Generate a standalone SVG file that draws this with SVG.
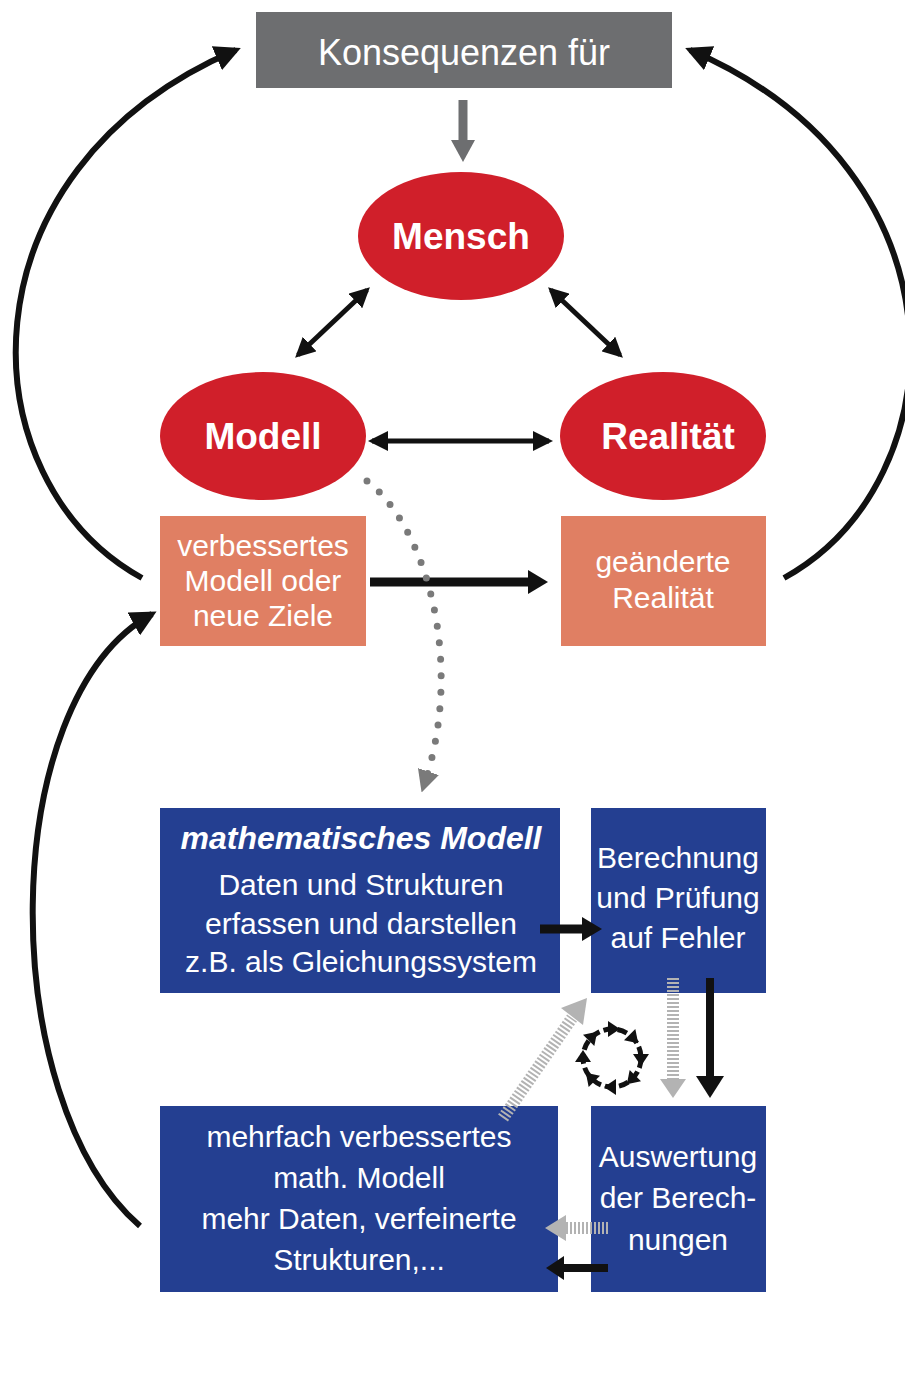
<svg xmlns="http://www.w3.org/2000/svg" width="905" height="1373" viewBox="0 0 905 1373">
<style>
.t{font-family:"Liberation Sans",Arial,sans-serif;fill:#fff;text-anchor:middle}
.r{fill:#d01f2a}
.s{fill:#e07f63}
.b{fill:#243f91}
.k{fill:none;stroke:#111;stroke-width:5}
.a{fill:none;stroke:#111;stroke-width:6}
.st{fill:none;stroke:#b3b3b3;stroke-width:12;stroke-dasharray:2 2}
</style>
<defs>
<marker id="ah" viewBox="0 0 10 10" refX="8" refY="5" markerWidth="20" markerHeight="20" markerUnits="userSpaceOnUse" orient="auto-start-reverse"><path d="M0,0 L10,5 L0,10 z" fill="#111"/></marker>
<marker id="ahb" viewBox="0 0 10 10" refX="8" refY="5" markerWidth="26" markerHeight="26" markerUnits="userSpaceOnUse" orient="auto"><path d="M0,0 L10,5 L0,10 z" fill="#111"/></marker>
<marker id="ahd" viewBox="0 0 10 10" refX="5" refY="5" markerWidth="22" markerHeight="22" markerUnits="userSpaceOnUse" orient="auto"><path d="M0,0 L10,5 L0,10 z" fill="#7a7a7a"/></marker>
</defs>
<rect width="905" height="1373" fill="#fff"/>

<g id="konsequenzen">
<rect x="256" y="12" width="416" height="76" fill="#6d6e70"/>
<text class="t" x="464" y="65" font-size="36">Konsequenzen für</text>
</g>
<g id="mensch">
<ellipse class="r" cx="461" cy="236" rx="103" ry="64"/>
<text class="t" x="461" y="249" font-size="37" font-weight="bold">Mensch</text>
</g>
<g id="modell">
<ellipse class="r" cx="263" cy="436" rx="103" ry="64"/>
<text class="t" x="263" y="449" font-size="37" font-weight="bold">Modell</text>
</g>
<g id="realitaet">
<ellipse class="r" cx="663" cy="436" rx="103" ry="64"/>
<text class="t" x="668" y="449" font-size="37" font-weight="bold">Realität</text>
</g>
<g id="verbessert">
<rect class="s" x="160" y="516" width="206" height="130"/>
<text class="t" font-size="30"><tspan x="263" y="556">verbessertes</tspan><tspan x="263" y="591">Modell oder</tspan><tspan x="263" y="626">neue Ziele</tspan></text>
</g>
<g id="geaendert">
<rect class="s" x="561" y="516" width="205" height="130"/>
<text class="t" font-size="30"><tspan x="663" y="572">geänderte</tspan><tspan x="663" y="608">Realität</tspan></text>
</g>
<g id="mathmodell">
<rect class="b" x="160" y="808" width="400" height="185"/>
<text class="t" x="361" y="849" font-size="32" font-weight="bold" font-style="italic">mathematisches Modell</text>
<text class="t" font-size="30"><tspan x="361" y="895">Daten und Strukturen</tspan><tspan x="361" y="934">erfassen und darstellen</tspan><tspan x="361" y="972">z.B. als Gleichungssystem</tspan></text>
</g>
<g id="berechnung">
<rect class="b" x="591" y="808" width="175" height="185"/>
<text class="t" font-size="30"><tspan x="678" y="868">Berechnung</tspan><tspan x="678" y="908">und Prüfung</tspan><tspan x="678" y="948">auf Fehler</tspan></text>
</g>
<g id="mehrfach">
<rect class="b" x="160" y="1106" width="398" height="186"/>
<text class="t" font-size="30"><tspan x="359" y="1147">mehrfach verbessertes</tspan><tspan x="359" y="1188">math. Modell</tspan><tspan x="359" y="1229">mehr Daten, verfeinerte</tspan><tspan x="359" y="1270">Strukturen,...</tspan></text>
</g>
<g id="auswertung">
<rect class="b" x="591" y="1106" width="175" height="186"/>
<text class="t" font-size="30"><tspan x="678" y="1167">Auswertung</tspan><tspan x="678" y="1208">der Berech-</tspan><tspan x="678" y="1250">nungen</tspan></text>
</g>

<g id="connectors">
<line x1="463" y1="100" x2="463" y2="142" stroke="#6d6e70" stroke-width="9"/>
<path d="M451,140 L475,140 L463,162 z" fill="#6d6e70"/>
<line class="k" x1="367" y1="290" x2="298" y2="355" marker-start="url(#ah)" marker-end="url(#ah)"/>
<line class="k" x1="551" y1="290" x2="620" y2="355" marker-start="url(#ah)" marker-end="url(#ah)"/>
<line class="k" x1="372" y1="441" x2="549" y2="441" marker-start="url(#ah)" marker-end="url(#ah)"/>
<line x1="370" y1="582" x2="530" y2="582" stroke="#111" stroke-width="9"/>
<path d="M528,570 L548,582 L528,594 z" fill="#111"/>
<path class="a" d="M142,578 C-35,480 -45,170 236,50" marker-end="url(#ahb)"/>
<path class="a" d="M784,578 C961,480 971,170 690,50" marker-end="url(#ahb)"/>
<path class="a" d="M140,1226 C-5,1100 -5,700 152,614" marker-end="url(#ahb)"/>
<path d="M367,481 C425,525 465,660 425,782" fill="none" stroke="#7a7a7a" stroke-width="7" stroke-linecap="round" stroke-dasharray="0 16.5" marker-end="url(#ahd)"/>
<line x1="540" y1="929" x2="584" y2="929" stroke="#111" stroke-width="9"/>
<path d="M582,917 L602,929 L582,941 z" fill="#111"/>
<line x1="710" y1="978" x2="710" y2="1078" stroke="#111" stroke-width="8"/>
<path d="M696,1076 L724,1076 L710,1098 z" fill="#111"/>
<line class="st" x1="673" y1="978" x2="673" y2="1080"/>
<path d="M660,1079 L686,1079 L673,1098 z" fill="#b3b3b3"/>
<line class="st" x1="503" y1="1118" x2="572" y2="1018"/>
<path d="M561,1008 L587,998 L583,1025 z" fill="#b3b3b3"/>
<line class="st" x1="608" y1="1228" x2="564" y2="1228"/>
<path d="M566,1215 L566,1241 L545,1228 z" fill="#b3b3b3"/>
<line x1="608" y1="1268" x2="562" y2="1268" stroke="#111" stroke-width="8"/>
<path d="M564,1256 L564,1280 L546,1268 z" fill="#111"/>
<g transform="translate(612,1058)">
<circle r="29" fill="none" stroke="#111" stroke-width="5" stroke-dasharray="10 4.2"/>
<g fill="#111">
<polygon points="-4,-37 8,-29 -4,-21"/>
<polygon points="-4,-37 8,-29 -4,-21" transform="rotate(45)"/>
<polygon points="-4,-37 8,-29 -4,-21" transform="rotate(90)"/>
<polygon points="-4,-37 8,-29 -4,-21" transform="rotate(135)"/>
<polygon points="-4,-37 8,-29 -4,-21" transform="rotate(180)"/>
<polygon points="-4,-37 8,-29 -4,-21" transform="rotate(225)"/>
<polygon points="-4,-37 8,-29 -4,-21" transform="rotate(270)"/>
<polygon points="-4,-37 8,-29 -4,-21" transform="rotate(315)"/>
</g>
</g>
</g>
</svg>
